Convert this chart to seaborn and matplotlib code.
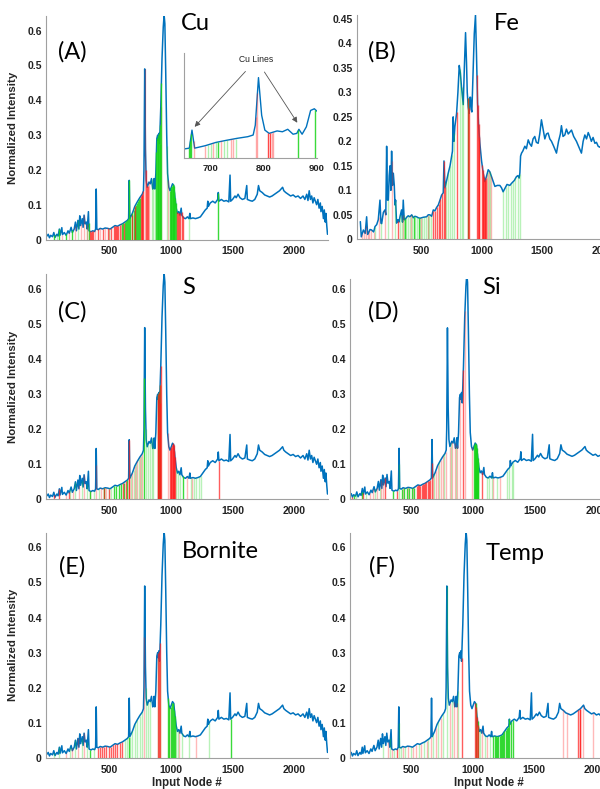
import numpy as np
import matplotlib
matplotlib.use("Agg")
import matplotlib.pyplot as plt
import seaborn as sns

# spectrum shared by Cu, S, Si, Bornite and Temp panels
spec_node = [0, 10, 20, 30, 45, 55, 65, 80, 90, 100,
             105, 120, 125, 140, 155, 170, 180, 195, 205, 220,
             230, 238, 250, 258, 265, 272, 285, 292, 300, 308,
             318, 325, 335, 340, 355, 370, 385, 393, 398, 403,
             415, 430, 450, 470, 490, 510, 530, 550, 570, 590,
             610, 630, 650, 660, 665, 670, 690, 710, 730, 750,
             770, 780, 784, 790, 796, 802, 810, 825, 835, 845,
             855, 862, 866, 872, 880, 888, 895, 900, 905, 910,
             920, 930, 940, 947, 953, 960, 968, 975, 985, 995,
             1005, 1015, 1025, 1035, 1045, 1055, 1065, 1075, 1085, 1090,
             1105, 1120, 1135, 1148, 1155, 1160, 1180, 1200, 1220, 1240,
             1260, 1280, 1295, 1300, 1305, 1320, 1340, 1360, 1380, 1385,
             1390, 1410, 1430, 1450, 1470, 1480, 1485, 1500, 1520, 1530,
             1545, 1560, 1580, 1600, 1615, 1620, 1640, 1660, 1680, 1700,
             1710, 1720, 1740, 1760, 1780, 1800, 1820, 1840, 1860, 1880,
             1905, 1915, 1930, 1950, 1970, 1990, 2010, 2030, 2050, 2070,
             2085, 2100, 2110, 2120, 2130, 2140, 2150, 2160, 2170, 2180,
             2190, 2200, 2210, 2215, 2225, 2235, 2242, 2250, 2255, 2262,
             2268]
spec_val = [0.010, 0.015, 0.005, 0.012, 0.008, 0.020, 0.006, 0.015, 0.010, 0.030,
            0.012, 0.034, 0.014, 0.020, 0.012, 0.025, 0.018, 0.035, 0.020, 0.030,
            0.050, 0.025, 0.055, 0.030, 0.068, 0.040, 0.060, 0.035, 0.070, 0.045,
            0.050, 0.030, 0.080, 0.025, 0.022, 0.025, 0.023, 0.030, 0.145, 0.030,
            0.028, 0.032, 0.030, 0.033, 0.032, 0.030, 0.035, 0.040, 0.038, 0.042,
            0.045, 0.050, 0.055, 0.060, 0.170, 0.060, 0.075, 0.095, 0.108, 0.120,
            0.130, 0.140, 0.200, 0.490, 0.260, 0.170, 0.150, 0.165, 0.160, 0.175,
            0.145, 0.150, 0.175, 0.145, 0.190, 0.290, 0.300, 0.285, 0.305, 0.275,
            0.380, 0.520, 0.610, 0.645, 0.620, 0.480, 0.300, 0.190, 0.150, 0.140,
            0.150, 0.160, 0.155, 0.120, 0.090, 0.075, 0.080, 0.070, 0.090, 0.070,
            0.062, 0.060, 0.065, 0.060, 0.075, 0.060, 0.062, 0.060, 0.062, 0.065,
            0.075, 0.085, 0.090, 0.110, 0.095, 0.105, 0.110, 0.105, 0.115, 0.135,
            0.110, 0.115, 0.110, 0.112, 0.108, 0.185, 0.110, 0.115, 0.125, 0.120,
            0.130, 0.120, 0.115, 0.118, 0.155, 0.115, 0.112, 0.110, 0.115, 0.130,
            0.155, 0.140, 0.135, 0.128, 0.125, 0.122, 0.125, 0.130, 0.135, 0.140,
            0.150, 0.140, 0.135, 0.130, 0.125, 0.128, 0.122, 0.125, 0.118, 0.125,
            0.115, 0.130, 0.112, 0.140, 0.115, 0.125, 0.105, 0.120, 0.110, 0.100,
            0.115, 0.090, 0.105, 0.080, 0.095, 0.060, 0.085, 0.050, 0.075, 0.040,
            0.015]

# Fe sample spectrum
fe_node = [0, 8, 25, 40, 52, 60, 66, 80, 93, 110,
           121, 135, 148, 162, 170, 176, 190, 203, 210, 217,
           224, 231, 238, 245, 252, 258, 265, 272, 280, 286,
           291, 299, 310, 318, 327, 340, 348, 354, 362, 368,
           382, 395, 409, 424, 437, 450, 464, 478, 492, 520,
           547, 560, 574, 588, 602, 615, 629, 643, 657, 670,
           684, 690, 698, 712, 725, 740, 753, 760, 766, 772,
           780, 794, 805, 816, 825, 835, 849, 858, 868, 876,
           882, 890, 898, 904, 909, 915, 920, 931, 940, 950,
           958, 967, 976, 986, 1000, 1014, 1027, 1040, 1055, 1068,
           1082, 1096, 1110, 1130, 1151, 1165, 1178, 1195, 1210, 1233,
           1250, 1270, 1288, 1300, 1310, 1316, 1322, 1330, 1340, 1357,
           1370, 1385, 1398, 1412, 1425, 1439, 1452, 1467, 1480, 1494,
           1508, 1522, 1535, 1549, 1563, 1577, 1595, 1618, 1635, 1650,
           1659, 1672, 1687, 1700, 1715, 1742, 1760, 1783, 1800, 1824,
           1838, 1852, 1866, 1880, 1893, 1906, 1920, 1935, 1948, 1962,
           1975, 2000, 2050, 2100, 2150, 2200, 2250, 2268]
fe_val = [0.036, 0.005, 0.019, 0.012, 0.046, 0.010, 0.012, 0.020, 0.019, 0.015,
          0.026, 0.030, 0.040, 0.080, 0.033, 0.032, 0.055, 0.060, 0.050, 0.190,
          0.080, 0.080, 0.130, 0.150, 0.100, 0.180, 0.110, 0.135, 0.110, 0.070,
          0.080, 0.033, 0.040, 0.035, 0.046, 0.060, 0.035, 0.080, 0.040, 0.040,
          0.045, 0.048, 0.046, 0.050, 0.044, 0.047, 0.046, 0.044, 0.043, 0.045,
          0.046, 0.050, 0.050, 0.047, 0.060, 0.058, 0.065, 0.070, 0.080, 0.090,
          0.095, 0.160, 0.105, 0.120, 0.135, 0.150, 0.170, 0.180, 0.250, 0.200,
          0.230, 0.257, 0.300, 0.355, 0.340, 0.310, 0.275, 0.350, 0.422, 0.360,
          0.300, 0.270, 0.257, 0.290, 0.290, 0.265, 0.260, 0.350, 0.420, 0.458,
          0.380, 0.280, 0.230, 0.196, 0.160, 0.135, 0.118, 0.128, 0.142, 0.138,
          0.128, 0.118, 0.108, 0.110, 0.110, 0.105, 0.097, 0.105, 0.112, 0.110,
          0.115, 0.120, 0.128, 0.130, 0.125, 0.135, 0.170, 0.176, 0.180, 0.190,
          0.185, 0.203, 0.195, 0.190, 0.205, 0.210, 0.198, 0.196, 0.215, 0.244,
          0.225, 0.205, 0.215, 0.217, 0.205, 0.200, 0.190, 0.176, 0.200, 0.215,
          0.232, 0.210, 0.213, 0.225, 0.215, 0.223, 0.210, 0.200, 0.190, 0.176,
          0.200, 0.213, 0.205, 0.218, 0.210, 0.200, 0.208, 0.196, 0.198, 0.190,
          0.188, 0.195, 0.185, 0.190, 0.180, 0.170, 0.150, 0.120]

# selected input nodes (red / green, strong / faint) for each panel
a_red = [345, 352, 360, 372, 410, 450, 490, 520, 540, 548, 556, 565, 575, 590, 620,
         685, 712, 758, 765, 772, 780, 800, 808, 815, 1052, 1060, 1068, 1078, 1088, 1096]
a_red_lt = [125, 175, 225, 275, 300, 320, 390, 430, 470, 505, 600, 790, 825, 920, 980]
a_grn = [60, 100, 150, 200, 338, 605, 615, 628, 640, 650, 658, 665, 675, 690, 700, 708,
         718, 726, 735, 742, 750, 885, 890, 895, 900, 905, 910, 915, 925,
         995, 1000, 1005, 1010, 1015, 1020, 1025, 1030, 1035, 1040, 1385]
a_grn_lt = [80, 250, 320, 505, 845, 860, 870, 970, 1150]

ins_red = [808, 811]
ins_red_lt = [668, 690, 705, 720, 738, 742, 785, 788, 815, 818]
ins_grn = [660, 662, 664, 713, 865, 897]
ins_grn_lt = [695, 700, 710, 725, 730, 748]

b_red = [313, 600, 615, 630, 645, 660, 675, 690, 700, 795, 885, 900, 962, 968, 975, 982,
         1005, 1010, 1015, 1020, 1025, 1030, 1035]
b_red_lt = [15, 30, 45, 60, 75, 90, 110, 150, 200, 260, 350, 420, 500, 560, 1045, 1060, 1080]
b_grn = [370, 440, 480, 885]
b_grn_lt = [120, 170, 230, 290, 330, 345, 360, 380, 395, 410, 425, 455, 470, 495, 510,
            525, 540, 555, 570, 585, 710, 725, 740, 755, 770, 820, 835, 850, 1050, 1070,
            1180, 1200, 1220, 1240, 1260, 1280, 1300, 1315]

c_red = [60, 100, 175, 463, 503, 611, 638, 660, 665, 895, 900, 905, 910, 915, 920,
         995, 1000, 1005, 1010, 1015, 1020, 1025, 1030, 1035, 1392]
c_red_lt = [153, 210, 260, 300, 350, 400, 440, 480, 690, 710, 730, 750, 770, 975, 1135, 1175]
c_grn = [350, 463, 540, 560, 580, 600, 620, 645, 787, 895, 905, 915, 1096]
c_grn_lt = [190, 230, 280, 320, 380, 420, 460, 500, 520, 680, 700, 720, 740, 760,
            800, 815, 830, 845, 860, 1045, 1060, 1075, 1165, 1185, 1205, 1225, 1245]

d_red = [20, 108, 284, 378, 540, 550, 560, 570, 580, 590, 600, 610, 620, 630, 640,
         650, 662, 919, 1068]
d_red_lt = [160, 190, 220, 250, 270, 430, 470, 510, 675, 695, 715, 735, 755, 775,
            810, 830, 850, 870, 890, 932, 987, 1162, 1216]
d_grn = [35, 95, 351, 420, 440, 460, 480, 500, 520, 1008, 1012, 1016, 1020, 1024,
         1028, 1032, 1036, 1040]
d_grn_lt = [50, 130, 200, 240, 400, 685, 725, 765, 820, 860, 1108, 1130, 1150, 1190,
            1270, 1290, 1310, 1325]

e_red = [410, 425, 445, 460, 480, 500, 515, 530, 550, 570, 590, 610, 895, 905, 915]
e_red_lt = [150, 200, 250, 300, 787, 990, 1070, 1205]
e_grn = [350, 660, 980, 990, 1000, 1010, 1020, 1030, 1035, 1487]
e_grn_lt = [60, 100, 190, 230, 280, 320, 380, 630, 650, 670, 690, 710, 730, 750, 770,
            800, 815, 830, 900, 910, 1045, 1060, 1090, 1150, 1310]

f_red = [381, 911, 1020, 1028, 1036, 1044, 1860, 1875, 1880]
f_red_lt = [310, 340, 435, 475, 516, 540, 580, 625, 660, 700, 740, 815, 850, 870,
            1080, 1120, 1740, 1767, 1900, 1985]
f_grn = [1024, 1040, 1170, 1180, 1190, 1200, 1210, 1220, 1230, 1240, 1250, 1260,
         1270, 1280, 1290, 1300, 1315, 1330]
f_grn_lt = [272, 330, 360, 400, 420, 450, 495, 560, 600, 640, 680, 720, 760, 790,
            830, 880, 1060, 1100, 1142]

W, H = 600, 789
BLUE = "#0072BD"
RED = "#ff1a1a"
GREEN = "#19d419"

sns.set_theme(style="white")
plt.rcParams["font.family"] = ["Liberation Sans", "DejaVu Sans"]

fig = plt.figure(figsize=(W / 100, H / 100), dpi=100)


def px_axes(left, top, right, bottom):
    return fig.add_axes([left / W, 1 - bottom / H, (right - left) / W, (bottom - top) / H])


def draw_panel(ax, xs, ys, red, red_lt, grn, grn_lt, xlim, ylim, yticks, ticksize=7.5):
    sns.lineplot(x=xs, y=ys, ax=ax, color=BLUE, lw=1.1, estimator=None, sort=False, zorder=2)
    for nodes, col, al in [(grn_lt, GREEN, 0.3), (red_lt, RED, 0.3), (grn, GREEN, 0.85), (red, RED, 0.7)]:
        h = np.interp(nodes, xs, ys)
        ax.vlines(nodes, 0, h, colors=col, alpha=al, lw=1.0, zorder=3)
    ax.set_xlim(*xlim)
    ax.set_ylim(*ylim)
    ax.set_xticks([500, 1000, 1500, 2000])
    ax.set_xticklabels(["500", "1000", "1500", "2000"], fontweight="bold", fontsize=ticksize)
    ax.set_yticks(yticks)
    ax.set_yticklabels([f"{v:g}" for v in yticks], fontweight="bold", fontsize=ticksize)
    ax.tick_params(direction="in", length=2.5, width=0.6, color="#888888",
                   labelcolor="#222222", pad=3)
    ax.tick_params(axis="x", pad=5)
    for s in ["top", "right"]:
        ax.spines[s].set_visible(False)
    for s in ["left", "bottom"]:
        ax.spines[s].set_color("#a0a0a0")
        ax.spines[s].set_linewidth(0.8)
    ax.set_facecolor("none")
    ax.set_xlabel("")
    ax.set_ylabel("")


y6 = [0, 0.1, 0.2, 0.3, 0.4, 0.5, 0.6]
y45 = [0, 0.05, 0.1, 0.15, 0.2, 0.25, 0.3, 0.35, 0.4, 0.45]

ax_a = px_axes(46, 16, 328, 239.5)
draw_panel(ax_a, spec_node, spec_val, a_red, a_red_lt, a_grn, a_grn_lt, (-8, 2272), (0, 0.642), y6)
ax_b = px_axes(356.7, 15, 635.5, 239.3)
draw_panel(ax_b, fe_node, fe_val, b_red, b_red_lt, b_grn, b_grn_lt, (-30, 2270), (0, 0.458), y45)
ax_c = px_axes(46, 274, 328, 499.3)
draw_panel(ax_c, spec_node, spec_val, c_red, c_red_lt, c_grn, c_grn_lt, (-8, 2272), (0, 0.643), y6)
ax_d = px_axes(350, 279, 630, 498.9)
draw_panel(ax_d, spec_node, spec_val, d_red, d_red_lt, d_grn, d_grn_lt, (0, 2270), (0, 0.63), y6)
ax_e = px_axes(46, 532.7, 328, 757.7)
draw_panel(ax_e, spec_node, spec_val, e_red, e_red_lt, e_grn, e_grn_lt, (-8, 2272), (0, 0.642), y6)
ax_f = px_axes(350, 532.7, 628.3, 757.7)
draw_panel(ax_f, spec_node, spec_val, f_red, f_red_lt, f_grn, f_grn_lt, (0, 2270), (0, 0.642), y6)

for ax in [ax_a, ax_c, ax_e]:
    ax.set_ylabel("Normalized Intensity", fontweight="bold", fontsize=8.2)
    ax.yaxis.set_label_coords(-0.099, 0.5)
for ax in [ax_e, ax_f]:
    ax.set_xlabel("Input Node #", fontweight="bold", fontsize=8.3)
    ax.xaxis.set_label_coords(0.5, -0.085)

# inset of panel A
ax_in = px_axes(184, 53, 317, 158)
ax_in.set_facecolor("white")
sns.lineplot(x=spec_node, y=spec_val, ax=ax_in, color=BLUE, lw=1.0, estimator=None, sort=False, zorder=2)
for nodes, col, al in [(ins_grn_lt, GREEN, 0.35), (ins_red_lt, RED, 0.35), (ins_grn, GREEN, 0.85), (ins_red, RED, 0.8)]:
    h = np.interp(nodes, spec_node, spec_val)
    ax_in.vlines(nodes, 0, h, colors=col, alpha=al, lw=1.0, zorder=3)
ax_in.set_xlim(650, 900)
ax_in.set_ylim(0, 0.64)
ax_in.set_xticks([700, 800, 900])
ax_in.set_xticklabels(["700", "800", "900"], fontweight="bold", fontsize=6.8)
ax_in.set_yticks([])
ax_in.tick_params(direction="in", length=2, width=0.5, color="#888888", labelcolor="#222222", pad=4)
for s in ["top", "right"]:
    ax_in.spines[s].set_visible(False)
for s in ["left", "bottom"]:
    ax_in.spines[s].set_color("#a0a0a0")
    ax_in.spines[s].set_linewidth(0.8)
ax_in.set_xlabel("")
ax_in.set_ylabel("")
ax_in.annotate("Cu Lines", xy=(670, 0.19), xytext=(786, 0.60), fontsize=6.2, ha="center", va="center",
               color="#222222",
               arrowprops=dict(arrowstyle="-|>", color="#555555", lw=0.6, mutation_scale=8,
                               shrinkA=4, shrinkB=0))
ax_in.annotate("Cu Lines", xy=(863, 0.215), xytext=(786, 0.60), fontsize=6.2, ha="center", va="center",
               color="none",
               arrowprops=dict(arrowstyle="-|>", color="#555555", lw=0.6, mutation_scale=8,
                               shrinkA=4, shrinkB=0))

# panel letters and element names
big = dict(fontsize=17, family=["Lato", "DejaVu Sans"], color="black")
for x, y, s, ha in [(72, 52, "(A)", "center"), (181, 23, "Cu", "left"),
                    (382, 52, "(B)", "center"), (494, 23, "Fe", "left"),
                    (72, 312, "(C)", "center"), (182, 287, "S", "left"),
                    (383, 312, "(D)", "center"), (482, 288, "Si", "left"),
                    (72, 567, "(E)", "center"), (182, 552, "Bornite", "left"),
                    (382, 567, "(F)", "center"), (486, 553, "Temp", "left")]:
    fig.text(x / W, 1 - y / H, s, ha=ha, va="center", **big)

fig.savefig("out.png", dpi=100)
